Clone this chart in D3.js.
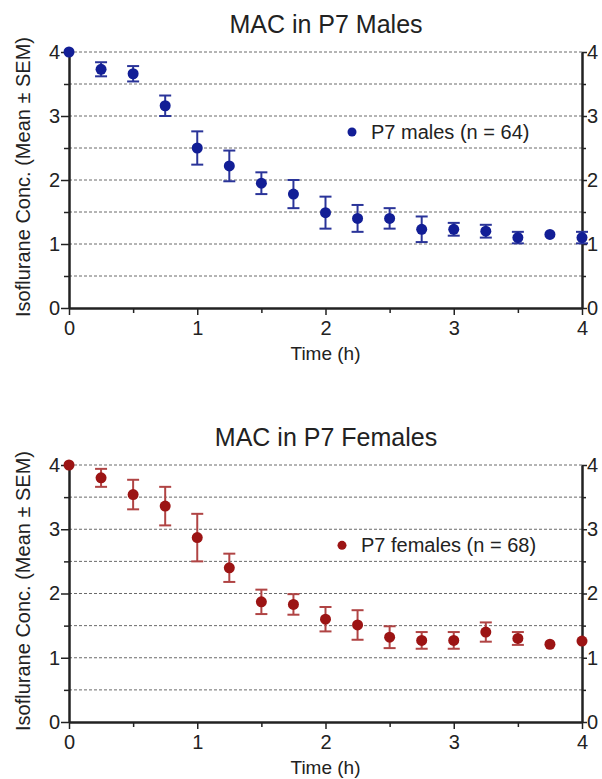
<!DOCTYPE html>
<html>
<head>
<meta charset="utf-8">
<script src="https://cdn.jsdelivr.net/npm/d3@7"></script>
<style>
  body { margin: 0; background: #fff; }
  svg { display: block; font-family: "Liberation Sans", Arial, sans-serif; }
</style>
</head>
<body>
<div id="chart"></div>
<script>
const width = 602;
const height = 779;

// time points (h)
const times = [0, 0.25, 0.5, 0.75, 1, 1.25, 1.5, 1.75, 2, 2.25, 2.5, 2.75, 3, 3.25, 3.5, 3.75, 4];

const maleMean = [4.0, 3.73, 3.66, 3.16, 2.5, 2.22, 1.95, 1.78, 1.49, 1.4, 1.4, 1.23, 1.23, 1.2, 1.1, 1.15, 1.1];
const maleSem = [0, 0.11, 0.12, 0.16, 0.26, 0.24, 0.17, 0.22, 0.25, 0.21, 0.16, 0.2, 0.1, 0.1, 0.09, 0, 0.09];

const femaleMean = [4.0, 3.8, 3.54, 3.36, 2.87, 2.4, 1.87, 1.83, 1.6, 1.51, 1.32, 1.27, 1.27, 1.4, 1.3, 1.21, 1.26];
const femaleSem = [0, 0.14, 0.23, 0.3, 0.37, 0.22, 0.19, 0.16, 0.19, 0.23, 0.17, 0.13, 0.13, 0.15, 0.1, 0, 0];

const yTicks = [0, 1, 2, 3, 4];
const yMinor = [0.5, 1.5, 2.5, 3.5];
const xTicks = [0, 1, 2, 3, 4];
const xMinor = [0.5, 1.5, 2.5, 3.5];

const svg = d3
  .select("#chart")
  .append("svg")
  .attr("width", width)
  .attr("height", height);

const x = d3.scaleLinear().domain([0, 4]).range([69, 582]);
const intFmt = d3.format("d");

drawPanel({
  top: 52,
  bottom: 308,
  title: "MAC in P7 Males",
  legend: "P7 males (n = 64)",
  legendX: 352,
  mean: maleMean,
  sem: maleSem,
  dot: "#121e96",
  bar: "#2a3499",
});

drawPanel({
  top: 465,
  bottom: 722,
  title: "MAC in P7 Females",
  legend: "P7 females (n = 68)",
  legendX: 342,
  mean: femaleMean,
  sem: femaleSem,
  dot: "#9c1414",
  bar: "#b04444",
});

function drawPanel(p) {
  const y = d3.scaleLinear().domain([0, 4]).range([p.bottom, p.top]);
  const g = svg.append("g");
  const pts = times.map((t, i) => ({ t, m: p.mean[i], s: p.sem[i] }));

  // dashed gridlines every 0.5
  g.append("g")
    .selectAll("line")
    .data(d3.range(0.5, 4.01, 0.5))
    .join("line")
    .attr("x1", x(0))
    .attr("x2", x(4))
    .attr("y1", (d) => y(d))
    .attr("y2", (d) => y(d))
    .attr("stroke", "#6a6a6a")
    .attr("stroke-width", 1)
    .attr("stroke-dasharray", "3,2");

  const styleAxis = (sel) => {
    sel.selectAll(".domain").attr("stroke", "#222").attr("stroke-width", 2);
    sel.selectAll(".tick line").attr("stroke", "#222").attr("stroke-width", 1.5);
    sel.selectAll("text")
      .attr("font-size", 20)
      .attr("fill", "#222")
      .attr("font-family", "Liberation Sans, Arial, sans-serif");
  };
  const noLabel = () => "";

  // left y axis
  const left = g.append("g").attr("transform", `translate(${x(0)},0)`);
  left.append("g")
    .call(d3.axisLeft(y).tickValues(yMinor).tickFormat(noLabel).tickSize(5).tickSizeOuter(0))
    .call(styleAxis);
  left.append("g")
    .call(d3.axisLeft(y).tickValues(yTicks).tickFormat(intFmt).tickSize(8).tickSizeOuter(0).tickPadding(1))
    .call(styleAxis);

  // right y axis
  const right = g.append("g").attr("transform", `translate(${x(4)},0)`);
  right.append("g")
    .call(d3.axisRight(y).tickValues(yMinor).tickFormat(noLabel).tickSize(4).tickSizeOuter(0))
    .call(styleAxis);
  right.append("g")
    .call(d3.axisRight(y).tickValues(yTicks).tickFormat(intFmt).tickSize(5).tickSizeOuter(0).tickPadding(0))
    .call(styleAxis);

  // x axis
  const bottom = g.append("g").attr("transform", `translate(0,${p.bottom})`);
  bottom.append("g")
    .call(d3.axisBottom(x).tickValues(xMinor).tickFormat(noLabel).tickSize(5).tickSizeOuter(0))
    .call(styleAxis);
  bottom.append("g")
    .call(d3.axisBottom(x).tickValues(xTicks).tickFormat(intFmt).tickSize(7).tickSizeOuter(0).tickPadding(6))
    .call(styleAxis);

  // error bars
  const eb = g.append("g").attr("stroke", p.bar).attr("stroke-width", 2).attr("fill", "none");
  const withErr = pts.filter((d) => d.s > 0);
  eb.selectAll(".v")
    .data(withErr)
    .join("line")
    .attr("class", "v")
    .attr("x1", (d) => x(d.t))
    .attr("x2", (d) => x(d.t))
    .attr("y1", (d) => y(d.m + d.s))
    .attr("y2", (d) => y(d.m - d.s));
  eb.selectAll(".ct")
    .data(withErr)
    .join("line")
    .attr("class", "ct")
    .attr("x1", (d) => x(d.t) - 6)
    .attr("x2", (d) => x(d.t) + 6)
    .attr("y1", (d) => y(d.m + d.s))
    .attr("y2", (d) => y(d.m + d.s));
  eb.selectAll(".cb")
    .data(withErr)
    .join("line")
    .attr("class", "cb")
    .attr("x1", (d) => x(d.t) - 6)
    .attr("x2", (d) => x(d.t) + 6)
    .attr("y1", (d) => y(d.m - d.s))
    .attr("y2", (d) => y(d.m - d.s));

  g.append("g")
    .selectAll("circle")
    .data(pts)
    .join("circle")
    .attr("cx", (d) => x(d.t))
    .attr("cy", (d) => y(d.m))
    .attr("r", 5.5)
    .attr("fill", p.dot);

  // title
  g.append("text")
    .attr("x", 326)
    .attr("y", p.top - 19)
    .attr("text-anchor", "middle")
    .attr("font-size", 25)
    .attr("fill", "#222")
    .text(p.title);

  // legend
  g.append("circle")
    .attr("cx", p.legendX)
    .attr("cy", y(2.75))
    .attr("r", 4.5)
    .attr("fill", p.dot);
  g.append("text")
    .attr("x", p.legendX + 19)
    .attr("y", y(2.75))
    .attr("dy", "0.35em")
    .attr("font-size", 20)
    .attr("fill", "#222")
    .text(p.legend);

  // axis titles
  g.append("text")
    .attr("x", x(2))
    .attr("y", p.bottom + 52)
    .attr("text-anchor", "middle")
    .attr("font-size", 19)
    .attr("fill", "#222")
    .text("Time (h)");

  g.append("text")
    .attr("transform", `translate(23,${p.bottom - 131}) rotate(-90)`)
    .attr("text-anchor", "middle")
    .attr("dy", "0.35em")
    .attr("font-size", 20)
    .attr("fill", "#222")
    .text("Isoflurane Conc. (Mean ± SEM)");
}
</script>
</body>
</html>
